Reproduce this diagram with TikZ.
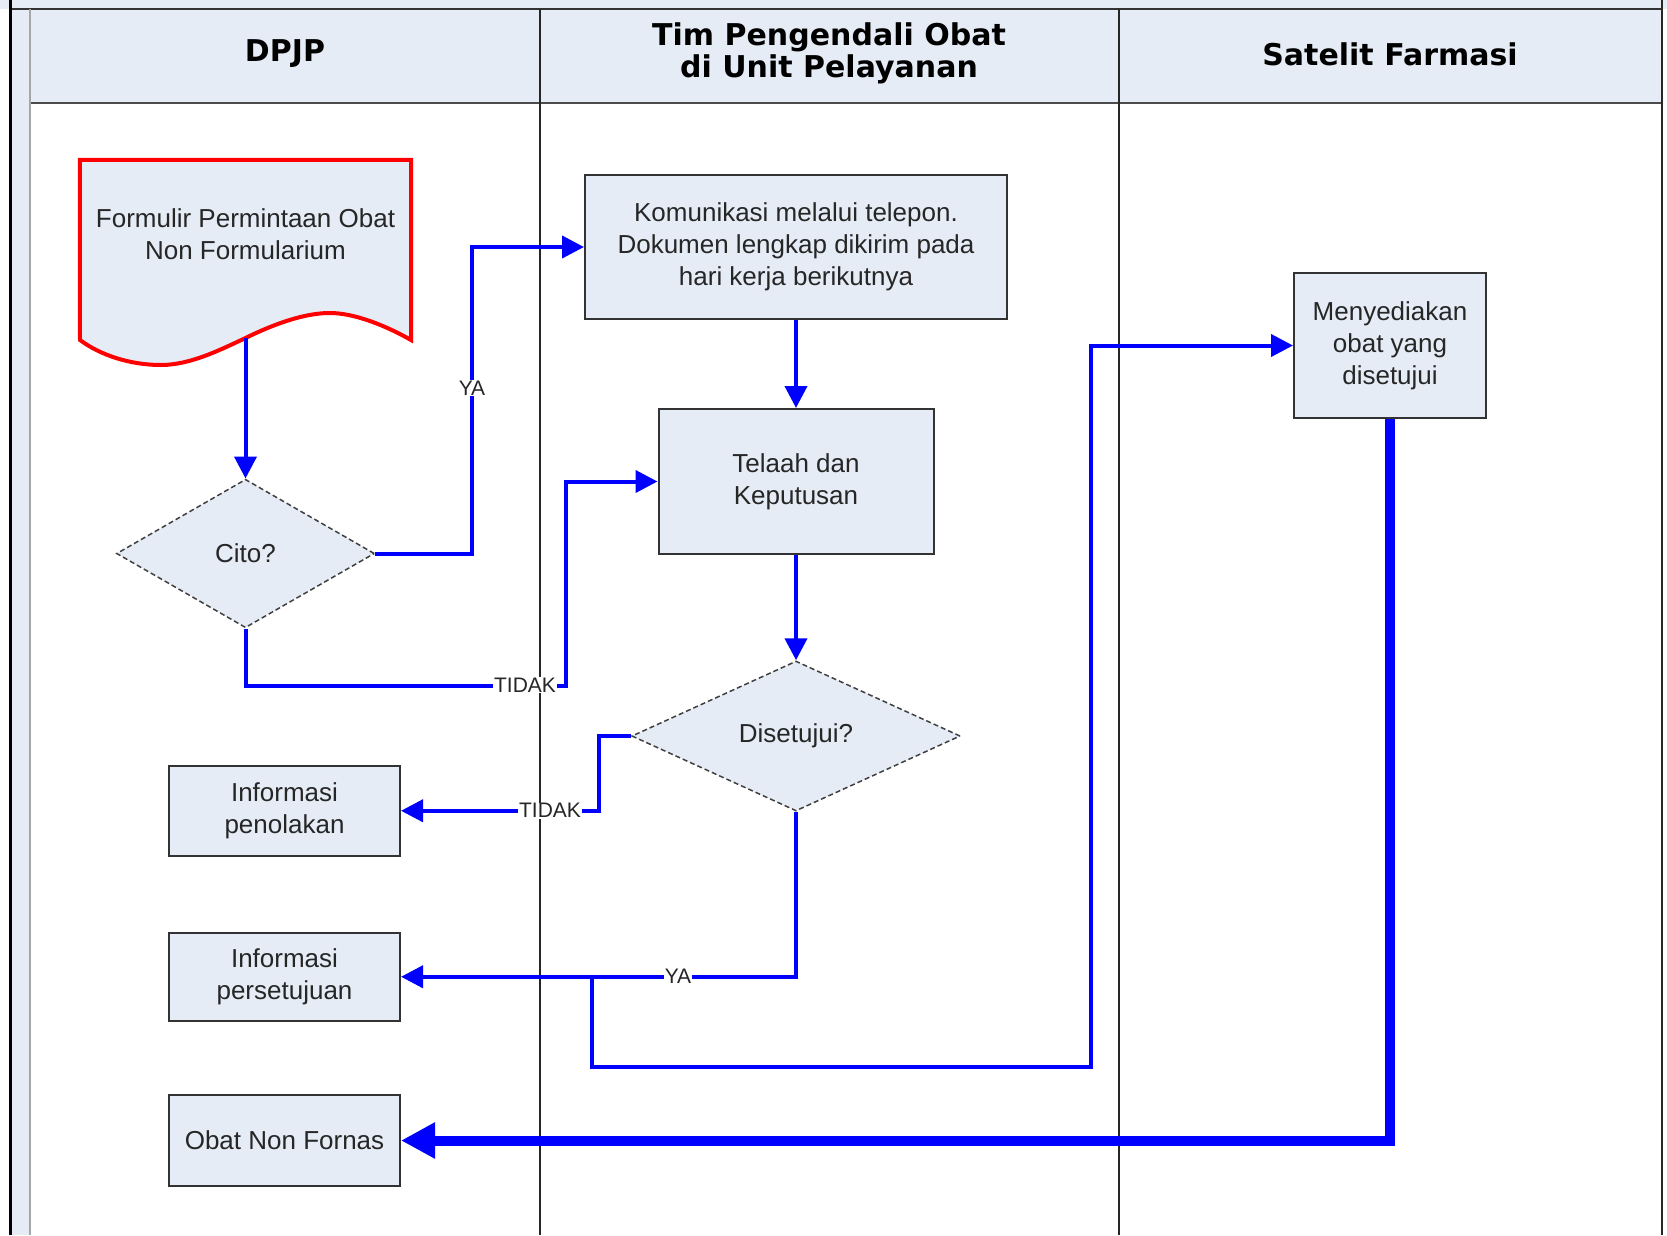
\documentclass[tikz,border=0pt]{standalone}
\usepackage{fontspec}
\setmainfont{Liberation Sans}
\newfontfamily\hdrfont{DejaVu Sans}
\usetikzlibrary{shapes.geometric,arrows.meta}
\definecolor{lb}{RGB}{230,236,246}
\definecolor{fblue}{RGB}{0,0,255}
\definecolor{docred}{RGB}{255,0,0}
\newcommand\bdfont{\fontsize{26}{32}\selectfont}
\newcommand\hdfont{\hdrfont\bfseries\fontsize{30}{32}\selectfont}
\newcommand\lblfont{\fontsize{21}{24}\selectfont}
\begin{document}
\begin{tikzpicture}[x=1pt,y=-1pt,
  box/.style={draw=black!80, line width=2pt, fill=lb, inner sep=0pt, align=center, font=\bdfont, text=black!85},
  decision/.style={diamond, draw=black!75, line width=1.5pt, dash pattern=on 5pt off 3pt, fill=lb, inner sep=0pt, font=\bdfont, text=black!85},
  lane/.style={draw=black!85, line width=2pt},
  hdr/.style={font=\hdfont, align=center, text=black},
  flow/.style={draw=fblue, line width=4pt, -{Triangle[length=22pt,width=22pt]}},
  flowline/.style={draw=fblue, line width=4pt},
  bigflow/.style={draw=fblue, line width=10pt, -{Triangle[length=34pt,width=34pt]}},
  lbl/.style={fill=white, inner sep=1pt, font=\lblfont, text=black!85}
]
\useasboundingbox (0,0) rectangle (1667,1235);
\fill[white] (0,0) rectangle (1667,1235);
% pool / lanes
\fill[lb] (0,0) rectangle (1667,8.5);
\fill[lb] (10.6,8.5) rectangle (1662,103);
\fill[lb] (10.6,103) rectangle (29.8,1235);
\draw[black!80, line width=2pt] (10.6,8.5) -- (1662,8.5);
\draw[black!70, line width=2pt] (29.8,103) -- (1662,103);
\draw[black!35, line width=1.5pt] (29.8,8.5) -- (29.8,1235);
\draw[black, line width=3pt] (10.6,0) -- (10.6,1235);
\draw[black!85, line width=2pt] (1662,0) -- (1662,1235);
\draw[lane] (540,8.5) -- (540,1235);
\draw[lane] (1118.5,8.5) -- (1118.5,1235);
\node[hdr] (hdpjp) at (285,54) {DPJP};
\node[hdr] (htim) at (829,53) {Tim Pengendali Obat\\di Unit Pelayanan};
\node[hdr] (hsat) at (1390,54) {Satelit Farmasi};

% document shape
\node[minimum width=331pt, minimum height=178pt, inner sep=0pt] (form) at (245.5,249) {};
\draw[docred, line width=4pt, fill=lb, line join=miter]
  (form.north west) -- (form.north east) -- (411,340)
  .. controls (390,328) and (355,312) .. (327,313)
  .. controls (300,314) and (270,326) .. (245.5,338)
  .. controls (220,350) and (190,365) .. (161,365)
  .. controls (130,365) and (100,355) .. (80,340) -- cycle;
\node[font=\bdfont, align=center, text=black!85] (formtext) at (245.5,234.5) {Formulir Permintaan Obat\\Non Formularium};

% process boxes
\node[box, minimum width=422pt, minimum height=144pt] (komu) at (796,247) {Komunikasi melalui telepon.\\Dokumen lengkap dikirim pada\\hari kerja berikutnya};
\node[box, minimum width=275pt, minimum height=145pt] (telaah) at (796,481.5) {Telaah dan\\Keputusan};
\node[box, minimum width=192pt, minimum height=145pt] (menye) at (1390,345.5) {Menyediakan\\obat yang\\disetujui};
\node[box, minimum width=231pt, minimum height=90.5pt] (tolak) at (284.5,810.75) {Informasi\\penolakan};
\node[box, minimum width=231pt, minimum height=88.5pt] (setuju) at (284.5,976.75) {Informasi\\persetujuan};
\node[box, minimum width=231pt, minimum height=91pt] (obat) at (284.5,1140.5) {Obat Non Fornas};

% decisions
\node[decision, minimum width=258pt, minimum height=148.5pt] (cito) at (245.5,553.5) {Cito?};
\node[decision, minimum width=328.5pt, minimum height=150pt] (dis) at (796,736) {Disetujui?};

% connectors
\draw[flow] (form.south) -- (cito.north);
\draw[flow] (cito.east) -- ++(97,0) |- (komu.west);
\draw[flow] (cito.south) -- ++(0,57) -- ++(320,0) |- (telaah.west);
\draw[flow] (komu.south) -- (telaah.north);
\draw[flow] (telaah.south) -- (dis.north);
\draw[flow] (dis.west) -- ++(-32,0) |- (tolak.east);
\draw[flow] (dis.south) |- (setuju.east);
\coordinate (jn) at (592,976.75);
\draw[flow] (jn) -- ++(0,90) -- ++(499,0) |- (menye.west);
\draw[bigflow] (menye.south) |- (obat.east);

% labels
\node[lbl] (lya1) at (472,388) {YA};
\node[lbl] (ltidak1) at (525,685) {TIDAK};
\node[lbl] (ltidak2) at (550,810.75) {TIDAK};
\node[lbl] (lya2) at (678,976.75) {YA};
\end{tikzpicture}
\end{document}
